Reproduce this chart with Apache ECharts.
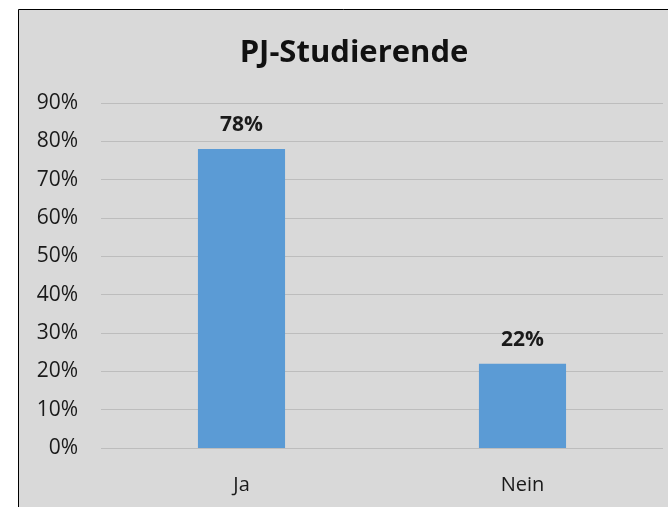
<!DOCTYPE html>
<html>
<head>
<meta charset="utf-8">
<script src="https://cdn.jsdelivr.net/npm/echarts@6/dist/echarts.min.js"></script>
<style>
  html, body { margin: 0; padding: 0; background: #fff; }
  #chart { width: 668px; height: 507px; }
</style>
</head>
<body>
<div id="chart"></div>
<script>
var categories = ['Ja', 'Nein'];
var values = [78, 22];
var yTicks = [0, 10, 20, 30, 40, 50, 60, 70, 80, 90];

var chart = echarts.init(document.getElementById('chart'));
var font = '"Open Sans", sans-serif';

chart.setOption({
  backgroundColor: '#fff',
  animation: false,
  graphic: [{
    type: 'rect',
    z: -10,
    shape: { x: 18.5, y: 9.5, width: 700, height: 600 },
    style: { fill: '#d9d9d9', stroke: '#000', lineWidth: 1 }
  }],
  title: {
    text: 'PJ-Studierende',
    left: 349,
    top: 33,
    textAlign: 'center',
    textStyle: { fontFamily: font, fontSize: 31, fontWeight: 'bold', color: '#111' }
  },
  grid: { left: 101, right: 5, top: 103, bottom: 59, containLabel: false },
  xAxis: {
    type: 'category',
    data: categories,
    axisLine: { show: false },
    axisTick: { show: false },
    axisLabel: { fontFamily: font, fontSize: 20, color: '#1a1a1a', margin: 27 }
  },
  yAxis: {
    type: 'value',
    min: yTicks[0],
    max: yTicks[yTicks.length - 1],
    interval: 10,
    axisLine: { show: false },
    axisTick: { show: false },
    splitLine: { lineStyle: { color: '#bdbdbd', width: 1 } },
    axisLabel: { fontFamily: font, fontSize: 21, color: '#1a1a1a', margin: 23, formatter: '{value}%' }
  },
  series: [{
    type: 'bar',
    data: values,
    barWidth: '31%',
    itemStyle: { color: '#5b9bd5' },
    label: {
      show: true,
      position: 'top',
      distance: 13,
      formatter: '{c}%',
      fontFamily: font,
      fontSize: 21,
      fontWeight: 'bold',
      color: '#1a1a1a'
    }
  }]
});
</script>
</body>
</html>
